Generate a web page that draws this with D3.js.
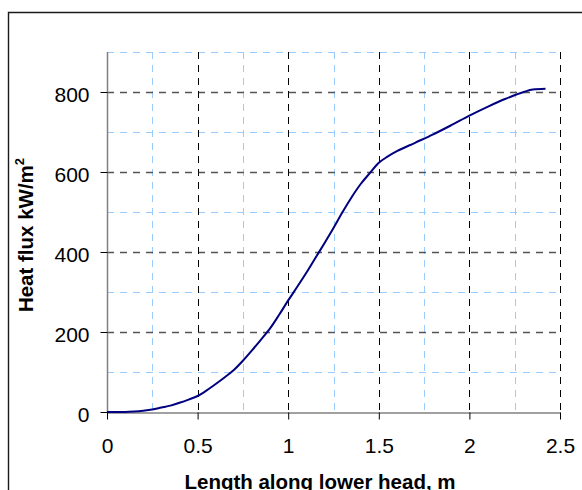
<!DOCTYPE html>
<html>
<head>
<meta charset="utf-8">
<script src="https://cdn.jsdelivr.net/npm/d3@7"></script>
<style>
  html, body { margin: 0; padding: 0; background: #fff; }
  svg { display: block; font-family: "Liberation Sans", Arial, sans-serif; }
</style>
</head>
<body>
<svg id="chart" width="582" height="490"></svg>
<script>
// Data
const lengthM = [0, 0.1, 0.15, 0.2, 0.25, 0.3, 0.35, 0.4, 0.45, 0.5, 0.55, 0.6, 0.65, 0.7, 0.75, 0.8, 0.85, 0.9, 0.95, 1.0, 1.05, 1.1, 1.15, 1.2, 1.25, 1.3, 1.35, 1.4, 1.45, 1.5, 1.55, 1.6, 1.7, 1.8, 1.9, 2.0, 2.1, 2.2, 2.3, 2.35, 2.42];
const heatFlux = [0, 0, 1, 3, 6, 11, 16, 23, 31, 40, 54, 70, 87, 105, 128, 154, 181, 209, 243, 279, 313, 348, 385, 422, 460, 500, 537, 570, 597, 623, 639, 652, 673, 694, 717, 741, 763, 783, 800, 806, 808];
const xMajorTicks = [0, 0.5, 1, 1.5, 2, 2.5];
const xMinorTicks = [0.25, 0.75, 1.25, 1.75, 2.25];
const yMajorTicks = [0, 200, 400, 600, 800];
const yMinorTicks = [100, 300, 500, 700, 900];
const xTitle = "Length along lower head, m";

const svg = d3.select("#chart");
const L = 107, R = 560, T = 52, B = 412;
const x = d3.scaleLinear().domain([0, 2.5]).range([L, R]);
const y = d3.scaleLinear().domain([0, 900]).range([B, T]);

// outer chart frame (extends beyond the canvas)
svg.append("path")
  .attr("d", `M8.5,500 L8.5,12.5 L600,12.5`)
  .attr("fill", "none").attr("stroke", "#1a1a1a").attr("stroke-width", 1.4);

// minor gridlines (light blue dashed)
const g = svg.append("g");
g.selectAll(".vmin").data(xMinorTicks).join("line")
  .attr("x1", d => Math.round(x(d)) + 0.5).attr("x2", d => Math.round(x(d)) + 0.5)
  .attr("y1", T).attr("y2", B)
  .attr("stroke", "#99ccff").attr("stroke-width", 1).attr("stroke-dasharray", "7,6");
g.selectAll(".hmin").data(yMinorTicks).join("line")
  .attr("x1", L).attr("x2", R)
  .attr("y1", d => Math.round(y(d)) + 0.5).attr("y2", d => Math.round(y(d)) + 0.5)
  .attr("stroke", "#99ccff").attr("stroke-width", 1).attr("stroke-dasharray", "7,6");

// major gridlines
g.selectAll(".hmaj").data(yMajorTicks.filter(d => d > 0)).join("line")
  .attr("x1", L).attr("x2", R)
  .attr("y1", d => Math.round(y(d)) + 0.5).attr("y2", d => Math.round(y(d)) + 0.5)
  .attr("stroke", "#555").attr("stroke-width", 1.3).attr("stroke-dasharray", "7,6");
g.selectAll(".vmaj").data(xMajorTicks.filter(d => d > 0)).join("line")
  .attr("x1", d => Math.round(x(d)) + 0.5).attr("x2", d => Math.round(x(d)) + 0.5)
  .attr("y1", T).attr("y2", B)
  .attr("stroke", "#000").attr("stroke-width", 1).attr("stroke-dasharray", "7,6");

// axes
const xAxis = d3.axisBottom(x).tickValues(xMajorTicks).tickSize(7).tickSizeOuter(0)
  .tickFormat(d => String(d));
const yAxis = d3.axisLeft(y).tickValues(yMajorTicks).tickSize(7).tickSizeOuter(0)
  .tickFormat(d => String(d));

const gx = svg.append("g").attr("transform", `translate(0,${Math.round(B) + 0.5})`).call(xAxis);
const gy = svg.append("g").attr("transform", `translate(${L + 0.5},0)`).call(yAxis);
gy.select(".domain").attr("d", `M0,${T}V${B}`);
[gx, gy].forEach(a => {
  a.select(".domain").attr("stroke", "#808080").attr("stroke-width", 1.5);
  a.selectAll(".tick line").attr("stroke", "#000").attr("stroke-width", 1);
  a.selectAll(".tick text").attr("font-size", 21).attr("fill", "#000")
    .attr("font-family", '"Liberation Sans", Arial, sans-serif');
});
gx.selectAll(".tick text").attr("dy", null).attr("y", 40.5);
gy.selectAll(".tick text").attr("x", -18).attr("dy", "0.47em");

// curve
const line = d3.line().x((d, i) => x(lengthM[i])).y(d => y(d)).curve(d3.curveMonotoneX);
svg.append("path").datum(heatFlux)
  .attr("d", line)
  .attr("fill", "none").attr("stroke", "#000080").attr("stroke-width", 2);

// axis titles
svg.append("text")
  .attr("x", 320).attr("y", 488.5)
  .attr("text-anchor", "middle").attr("font-size", 20.5).attr("font-weight", "bold")
  .text(xTitle);

const yt = svg.append("text")
  .attr("transform", "translate(33,235) rotate(-90)")
  .attr("text-anchor", "middle").attr("font-size", 20.5).attr("font-weight", "bold");
yt.append("tspan").text("Heat flux kW/m");
yt.append("tspan").attr("font-size", 13).attr("dy", -9).text("2");
</script>
</body>
</html>
